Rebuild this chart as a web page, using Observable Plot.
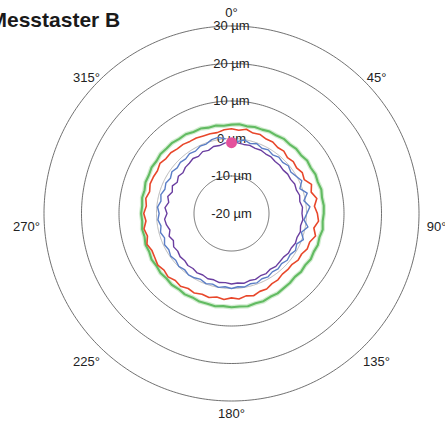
<!DOCTYPE html>
<html><head><meta charset="utf-8">
<script src="https://cdn.jsdelivr.net/npm/d3@7"></script>
<script src="https://cdn.jsdelivr.net/npm/@observablehq/plot@0.6"></script>
<style>
html,body{margin:0;padding:0;background:#fff;overflow:hidden}
#wrap{position:relative;width:445px;height:426px;overflow:hidden}
#title{position:absolute;left:-10.5px;top:7px;font:bold 21px "Liberation Sans",Arial,sans-serif;color:#1a1a1a;white-space:nowrap;line-height:25px;z-index:2}
svg{display:block}
</style></head><body><div id="wrap"><div id="title">Messtaster B</div></div>
<script>
// sample angles (degrees, clockwise from top)
const angles = d3.range(0, 360, 5);
const ringTicks = [-20, -10, 0, 10, 20, 30];
const angleTicks = [0, 45, 90, 135, 180, 225, 270, 315];
// deviations in µm read at each angle
const green = [3.7,3.9,3.6,3.9,3.8,4.1,4.0,4.3,4.1,4.4,4.2,4.6,4.4,4.7,4.5,4.8,4.5,4.7,
  4.6,4.4,4.7,4.3,4.5,4.2,4.4,4.0,4.2,3.9,4.2,4.3,4.6,4.5,4.9,4.8,5.1,4.9,
  5.0,4.8,5.1,4.9,5.0,4.7,4.9,4.6,4.8,4.5,4.7,4.4,4.6,4.2,4.4,4.0,4.2,3.9,
  4.1,3.9,4.2,4.0,4.4,4.3,4.6,4.4,4.7,4.5,4.6,4.3,4.4,4.0,4.1,3.7,3.8,3.5];
const red = [2.6,2.3,2.8,2.2,2.4,1.9,2.0,1.5,1.7,1.1,1.5,1.2,1.8,1.4,2.7,2.0,3.1,2.2,
  2.9,3.3,2.3,3.2,2.2,2.3,1.6,1.7,1.1,1.2,1.1,1.6,1.6,2.2,2.1,2.7,2.3,2.9,
  2.5,3.0,2.6,3.2,2.9,3.4,3.1,3.7,3.3,3.9,3.5,4.0,3.6,3.4,4.0,3.2,3.7,2.9,
  3.4,2.8,3.2,2.6,3.1,3.0,2.8,3.3,2.8,2.9,2.5,2.5,2.2,2.2,2.0,2.0,1.9,2.4];
const blue = [null,-0.7,-0.1,-0.7,-0.2,-0.8,-0.4,-0.9,-0.4,-0.7,-0.2,-0.7,-0.1,0.7,-0.6,0.9,-0.4,1.0,
  0.1,-0.6,0.7,-0.7,0.4,-0.8,-0.3,-0.9,-0.6,-1.1,-0.7,-1.0,-0.5,-0.8,-0.3,-0.6,-0.1,-0.4,
  0.0,-0.4,0.0,-0.5,-0.1,-0.6,-0.2,0.0,-0.5,-0.1,-0.6,-0.2,-0.7,-0.3,-1.0,-0.4,-0.9,-0.3,
  -0.7,-0.2,-0.9,-0.5,-1.1,-0.7,-1.2,-0.6,-1.1,-0.7,-1.0,-0.5,-0.8,-0.2,-0.3,0.4,0.6,0.0];
const purple = [null,-1.1,-1.3,-1.2,-1.5,-1.4,-1.7,-1.6,-1.9,-1.8,-2.0,-1.7,-1.8,-1.4,-1.6,-1.2,-1.5,-1.0,
  -1.2,-0.9,-1.3,-1.0,-1.4,-1.2,-1.6,-1.5,-1.9,-1.8,-1.6,-1.9,-1.5,-1.7,-1.3,-1.5,-1.1,-1.4,
  -1.2,-1.5,-1.3,-1.7,-1.5,-1.9,-1.7,-2.1,-1.9,-2.3,-2.1,-2.5,-2.2,-2.9,-2.3,-3.0,-2.4,-2.1,
  -2.8,-2.2,-3.0,-2.4,-3.2,-2.6,-3.3,-2.7,-3.1,-2.6,-2.5,-2.1,-2.4,-1.8,-2.1,-1.5,-1.6,-1.1];
const markerAngle = [0];
const markerValue = [-1.1];

const rad = a => a * Math.PI / 180;
const px = (v, a) => (v + 20) * Math.sin(rad(a));
const py = (v, a) => (v + 20) * Math.cos(rad(a));
function rows(name, vals) {
  return angles.map((a, i) => ({name, a, v: vals[i]}))
    .filter(d => d.v != null)
    .map(d => ({...d, x: px(d.v, d.a), y: py(d.v, d.a)}));
}
const ringRows = ringTicks.filter(t => t > -20).flatMap(t =>
  d3.range(0, 361, 1).map(a => ({t, x: px(t, a), y: py(t, a)})));
const angleRows = angleTicks.map(a => ({
  label: `${a}°`,
  x: 54.7 * Math.sin(rad(a)),
  y: 53.5 * Math.cos(rad(a)) - 3.5 * Math.sin(rad(a)) ** 2
}));
const marker = markerAngle.map((a, i) => ({x: px(markerValue[i], a), y: py(markerValue[i], a)}));

const chart = Plot.plot({
  width: 445, height: 426,
  margin: 0,
  x: {domain: [-231 / 3.75, 214 / 3.75], axis: null},
  y: {domain: [-213 / 3.75, 213 / 3.75], axis: null},
  style: {fontFamily: '"Liberation Sans", Arial, sans-serif', fontSize: "13px", background: "#fff"},
  marks: [
    Plot.line(ringRows.filter(d => d.t !== 0), {x: "x", y: "y", z: "t", stroke: "#4d4d4d", strokeWidth: 0.8}),
    Plot.line(ringRows.filter(d => d.t === 0), {x: "x", y: "y", z: "t", stroke: "#a8a8a8", strokeWidth: 0.8}),
    Plot.text(ringTicks, {x: () => 0, y: t => t + 20, text: t => `${t} µm`, fill: "#222", fontSize: 13}),
    Plot.text(angleRows, {x: "x", y: "y", text: "label", fill: "#222", fontSize: 13}),
    Plot.line(rows("g", green), {x: "x", y: "y", curve: "linear-closed", stroke: "#a6dba2", strokeWidth: 4.5, strokeOpacity: 0.5}),
    Plot.line(rows("g", green), {x: "x", y: "y", curve: "linear-closed", stroke: "#62bb62", strokeWidth: 2.1}),
    Plot.line(rows("r", red), {x: "x", y: "y", curve: "linear-closed", stroke: "#e8472b", strokeWidth: 1.6}),
    Plot.line(rows("b", blue), {x: "x", y: "y", stroke: "#5b7ec6", strokeWidth: 1.4}),
    Plot.line(rows("p", purple), {x: "x", y: "y", stroke: "#6a3ea0", strokeWidth: 1.4}),
    Plot.dot(marker, {x: "x", y: "y", r: 5.5, fill: "#e4519c"})
  ]
});
document.getElementById("wrap").appendChild(chart);
</script>
</body></html>
